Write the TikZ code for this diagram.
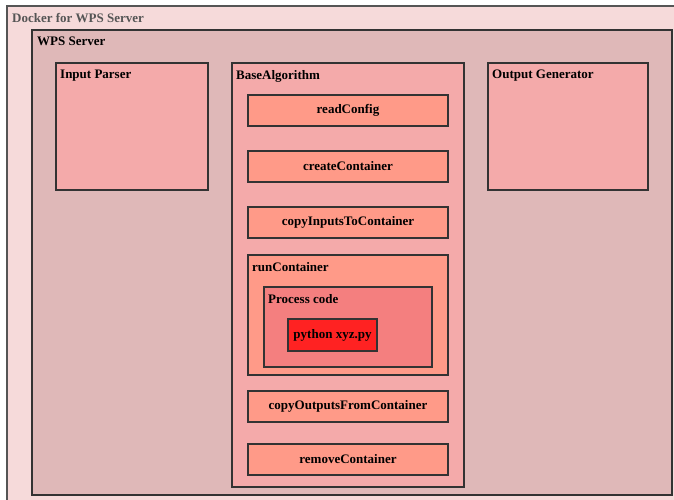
\documentclass[tikz,border=0pt]{standalone}
\usepackage{fontspec}
\setmainfont{Liberation Serif}
\definecolor{dockerfill}{HTML}{F6DADA}
\definecolor{serverfill}{HTML}{DFB8B8}
\definecolor{modfill}{HTML}{F4AAAA}
\definecolor{stepfill}{HTML}{FF9A88}
\definecolor{codefill}{HTML}{F47F7F}
\definecolor{cmdfill}{HTML}{FF2222}
\definecolor{edge}{HTML}{333333}
\definecolor{titlegrey}{HTML}{555555}
\tikzset{
  x=1pt, y=-1pt,
  frame/.style={draw=edge, line width=2pt, rectangle, anchor=north west, inner sep=0pt},
  boxtitle/.style={anchor=north west, inner sep=0pt, font=\fontsize{13}{15}\selectfont\bfseries},
  steptask/.style={frame, fill=stepfill, minimum width=200pt, minimum height=31pt,
    font=\fontsize{13}{15}\selectfont\bfseries},
}
\begin{document}
\begin{tikzpicture}
\useasboundingbox (0,0) rectangle (674,500);
% outer container, running off the page edge
\node[frame, draw=titlegrey, fill=dockerfill, minimum width=690pt, minimum height=510pt] (docker) at (6,5) {};
\node[boxtitle, text=titlegrey] (dockertitle) at (12,13) {Docker for WPS Server};
% WPS server
\node[frame, fill=serverfill, minimum width=640pt, minimum height=465pt] (server) at (31,29) {};
\node[boxtitle] (servertitle) at (37,37) {WPS Server};
% modules
\node[frame, fill=modfill, minimum width=152pt, minimum height=127pt] (parser) at (55,62) {};
\node[boxtitle] (parsertitle) at (60,70) {Input Parser};
\node[frame, fill=modfill, minimum width=232pt, minimum height=424pt] (base) at (231,62) {};
\node[boxtitle] (basetitle) at (236,70) {BaseAlgorithm};
\node[frame, fill=modfill, minimum width=160pt, minimum height=127pt] (output) at (487,62) {};
\node[boxtitle] (outputtitle) at (492,70) {Output Generator};
% algorithm steps
\node[steptask] (read) at (247,94) {readConfig};
\node[steptask] (create) at (247,150) {createContainer};
\node[steptask] (copyin) at (247,206) {copyInputsToContainer};
\node[frame, fill=stepfill, minimum width=200pt, minimum height=120pt] (run) at (247,254) {};
\node[boxtitle] (runtitle) at (252,262) {runContainer};
\node[frame, fill=codefill, minimum width=168pt, minimum height=80pt] (proc) at (263,286) {};
\node[boxtitle] (proctitle) at (268,294) {Process code};
\node[frame, fill=cmdfill, minimum width=89pt, minimum height=32pt, font=\fontsize{13}{15}\selectfont\bfseries] (cmd) at (287,318) {python xyz.py};
\node[steptask] (copyout) at (247,390) {copyOutputsFromContainer};
\node[steptask] (remove) at (247,443) {removeContainer};
\end{tikzpicture}
\end{document}
